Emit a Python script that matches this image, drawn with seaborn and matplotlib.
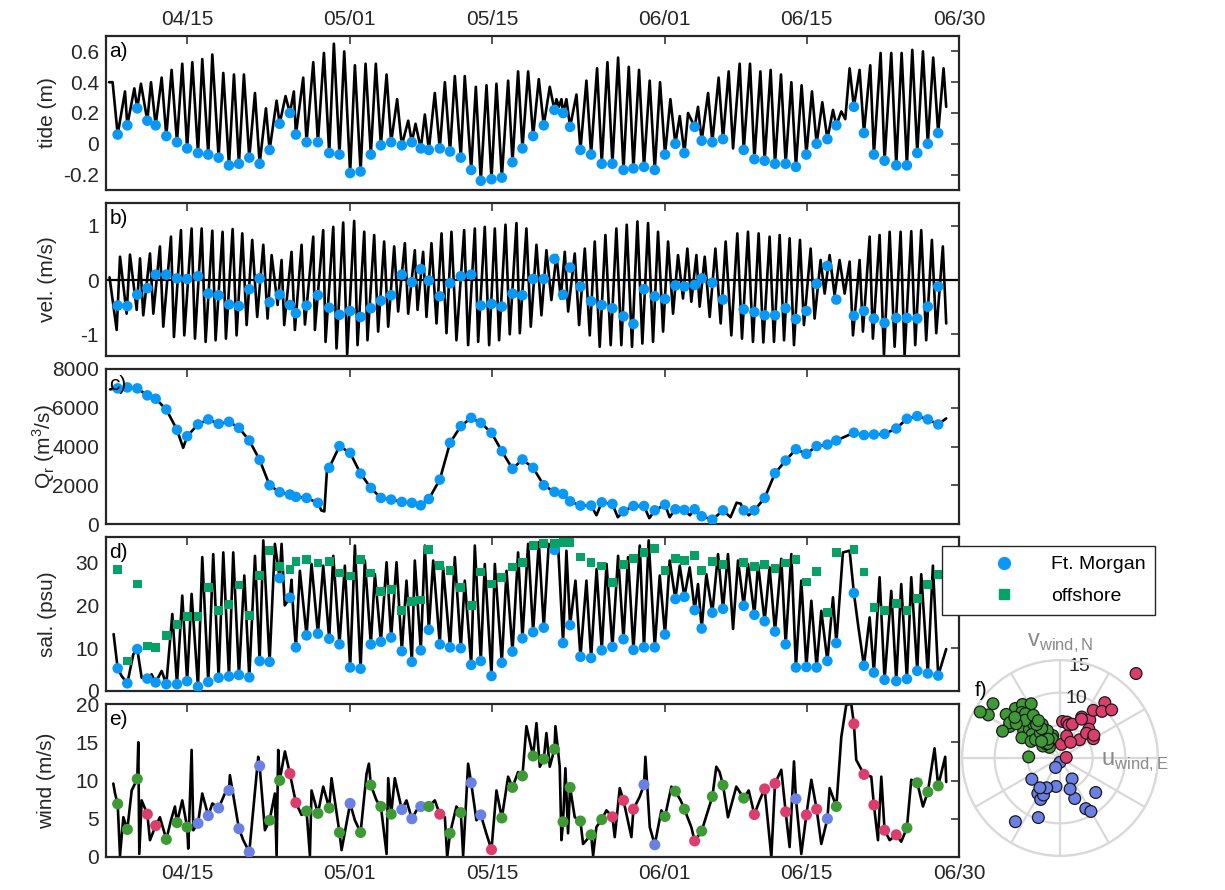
import numpy as np
import pandas as pd
import matplotlib
matplotlib.use("Agg")
import matplotlib.pyplot as plt
import matplotlib.dates as mdates
from matplotlib.lines import Line2D
import seaborn as sns

sns.set_theme(style="white")
plt.rcParams["font.family"] = ["Liberation Sans", "DejaVu Sans"]
plt.rcParams["mathtext.fontset"] = "custom"
plt.rcParams["mathtext.rm"] = "Liberation Sans"
plt.rcParams["axes.unicode_minus"] = False

# ---------------------------------------------------------------- data
T0 = pd.Timestamp("2019-04-07")
T_END = pd.Timestamp("2019-06-30")
tick_dates = ["2019-04-15", "2019-05-01", "2019-05-15", "2019-06-01", "2019-06-15", "2019-06-30"]

# daily sampling times (days after 7 April)
sample_day = [1.15, 2.10, 3.08, 4.07, 4.89, 5.94, 6.99, 7.99, 9.06, 10.07,
              11.09, 12.11, 13.09, 14.11, 15.13, 16.11, 17.10, 18.11, 18.70, 19.75,
              20.87, 21.98, 22.99, 24.04, 25.07, 26.08, 27.07, 28.08, 29.13, 30.12,
              31.00, 31.79, 32.87, 33.88, 34.94, 35.96, 36.91, 37.96, 38.98, 40.03,
              41.01, 42.06, 43.11, 44.16, 45.01, 45.70, 46.72, 47.77, 48.82, 49.87,
              50.96, 51.94, 52.98, 54.04, 55.05, 56.07, 56.96, 57.97, 58.66, 59.71,
              60.76, 62.80, 63.85, 64.86, 65.88, 66.93, 67.94, 68.97, 69.98, 71.04,
              71.92, 73.65, 74.64, 75.62, 76.67, 77.82, 78.87, 79.89, 80.93, 81.95]

tide_sample = [0.06, 0.12, 0.23, 0.15, 0.12, 0.05, 0.01, -0.03, -0.06, -0.07,
               -0.09, -0.14, -0.13, -0.09, -0.13, -0.04, 0.13, 0.20, 0.06, 0.01,
               0.01, -0.06, -0.07, -0.19, -0.18, -0.07, -0.01, 0.01, -0.01, 0.01,
               -0.03, -0.04, -0.03, -0.05, -0.09, -0.17, -0.24, -0.23, -0.22, -0.12,
               -0.03, 0.05, 0.12, 0.22, 0.20, 0.11, -0.04, -0.07, -0.13, -0.13,
               -0.17, -0.16, -0.15, -0.17, -0.07, 0.00, -0.06, 0.11, 0.02, 0.01,
               0.03, -0.04, -0.10, -0.11, -0.13, -0.13, -0.15, -0.07, 0.00, 0.03,
               0.12, 0.24, 0.07, -0.07, -0.11, -0.14, -0.14, -0.06, 0.00, 0.07]

vel_sample = [-0.47, -0.48, -0.27, -0.15, 0.10, 0.10, 0.03, 0.02, 0.07, -0.25,
              -0.28, -0.45, -0.48, -0.17, 0.03, -0.41, -0.27, -0.46, -0.61, -0.47,
              -0.28, -0.51, -0.64, -0.57, -0.68, -0.52, -0.38, -0.28, 0.10, -0.04,
              0.20, -0.01, -0.30, -0.06, 0.07, 0.10, -0.47, -0.44, -0.49, -0.25,
              -0.28, 0.02, 0.02, 0.39, -0.27, 0.23, -0.12, -0.39, -0.46, -0.52,
              -0.67, -0.81, -0.17, -0.30, -0.35, -0.10, -0.12, -0.09, 0.03, -0.05,
              -0.36, -0.54, -0.59, -0.65, -0.65, -0.52, -0.72, -0.57, -0.07, 0.26,
              -0.36, -0.66, -0.57, -0.71, -0.79, -0.70, -0.70, -0.71, -0.49, -0.12]

q_sample = [7000, 7050, 7000, 6640, 6465, 5910, 4860, 4530, 5140, 5400,
            5170, 5275, 4965, 4310, 3310, 2000, 1640, 1520, 1400, 1345,
            1090, 2900, 4020, 3670, 2600, 1860, 1345, 1260, 1140, 1090,
            965, 1290, 2290, 4190, 5050, 5480, 5220, 4710, 3760, 2845,
            3330, 2900, 2000, 1655, 1550, 1170, 950, 950, 1120, 1035,
            655, 930, 930, 705, 1000, 760, 725, 760, 400, 225,
            705, 705, 705, 1345, 2620, 3275, 3860, 3620, 4020, 4100,
            4310, 4710, 4590, 4620, 4650, 4930, 5430, 5570, 5400, 5140]

sal_morgan = [5.3, 1.8, 9.8, 2.9, 2.0, 1.6, 1.6, 2.3, 1.0, 2.1,
              3.1, 3.4, 3.75, 3.2, 7.0, 6.8, 26.4, 21.8, 10.2, 13.0,
              13.4, 12.2, 10.9, 5.5, 5.2, 10.9, 11.5, 12.5, 9.3, 6.8,
              9.5, 14.3, 10.9, 10.2, 10.0, 6.1, 7.0, 3.5, 6.6, 9.2,
              12.3, 13.75, 14.8, 33.0, 11.2, 15.4, 8.0, 7.7, 9.5, 10.3,
              12.1, 9.6, 10.2, 10.2, 13.2, 21.5, 22.0, 18.9, 14.6, 18.3,
              19.2, 19.9, 17.8, 16.3, 13.9, 10.9, 5.5, 5.6, 5.5, 7.0,
              11.2, 22.9, 5.9, 4.3, 2.6, 2.3, 2.8, 4.7, 4.1, 3.6]

sal_offshore = [28.4, 7.0, 25.0, 10.5, 10.2, 13.0, 15.5, 17.4, 17.4, 24.2,
                18.9, 20.2, 24.8, 17.7, 27.0, 32.8, 29.1, 28.4, 30.2, 30.8,
                29.9, 30.3, 27.6, 26.9, 30.8, 27.6, 23.3, 23.8, 18.9, 20.9,
                21.25, 33.0, 29.4, 28.1, 24.2, 20.0, 27.8, 25.0, 26.6, 29.0,
                30.0, 34.1, 34.4, 34.5, 34.7, 34.8, 31.3, 30.0, 29.2, 25.4,
                29.5, 30.9, 32.3, 33.3, 28.1, 30.9, 30.5, 31.6, 28.1, 30.2,
                29.6, 30.1, 29.1, 29.5, 28.6, 29.9, 30.8, 25.5, 28.0, 18.4,
                32.3, 33.0, 27.8, 19.5, 18.9, 20.5, 18.75, 21.6, 24.9, 27.2]

wind_speed = [6.95, 3.6, 10.2, 5.6, 4.1, 2.3, 4.5, 3.9, 4.4, 5.4,
              6.4, 8.7, 3.7, 0.65, 11.9, 4.8, 10.0, 10.9, 7.1, 6.0,
              5.7, 6.4, 3.2, 7.0, 3.2, 9.4, 6.6, 5.6, 6.2, 5.0,
              6.6, 6.6, 5.6, 3.1, 5.8, 9.7, 5.5, 0.96, 5.1, 9.1,
              10.6, 13.2, 12.8, 14.1, 4.6, 9.1, 4.7, 2.9, 4.9, 5.25,
              7.4, 6.25, 9.45, 1.6, 5.3, 8.6, 6.25, 2.1, 3.4, 7.9,
              9.4, 7.7, 5.55, 8.9, 9.6, 5.9, 7.6, 5.5, 6.25, 5.0,
              6.6, 17.4, 10.8, 6.8, 3.5, 2.9, 3.8, 9.7, 8.5, 9.3]

# direction the wind vector points to, degrees counter-clockwise from east
wind_dir = [143, 108, 132, 86, 43, 135, 132, 125, 262, 217,
            238, 297, 300, 270, 235, 178, 125, 51, 62, 147,
            133, 137, 145, 245, 112, 118, 128, 140, 246, 246,
            290, 152, 79, 135, 118, 250, 236, 5, 150, 130,
            141, 141, 149, 150, 115, 148, 143, 130, 128, 75,
            52, 45, 300, 245, 122, 128, 125, 84, 122, 133,
            145, 122, 43, 55, 48, 30, 316, 70, 34, 288,
            120, 48, 43, 61, 73, 56, 138, 155, 142, 138]

# tide record: high waters and extra turning points (lows are the sample values)
tide_hw_day = [1.87, 2.79, 3.44, 4.43, 5.48, 6.46, 7.51, 8.50, 9.48, 10.47,
               11.55, 12.60, 13.58, 14.67, 15.75, 16.80, 17.68, 18.50, 19.42, 20.41,
               21.46, 22.44, 23.46, 24.51, 25.56, 26.57, 27.63, 28.67, 29.76, 30.48,
               31.40, 32.38, 33.37, 34.35, 35.33, 36.42, 37.47, 38.45, 39.60, 40.58,
               41.57, 42.62, 43.70, 44.36, 44.85, 45.34, 46.33, 47.31, 48.36, 49.38,
               50.43, 51.48, 52.49, 53.54, 54.56, 55.58, 56.50, 57.32, 58.30, 59.29,
               60.33, 61.32, 62.40, 63.42, 64.44, 65.45, 66.47, 67.49, 68.50, 69.52,
               70.54, 71.59, 72.41, 73.23, 74.21, 75.26, 76.28, 77.33, 78.35, 79.40,
               80.45, 81.46, 82.48]
tide_hw = [0.34, 0.36, 0.39, 0.40, 0.43, 0.48, 0.52, 0.53, 0.55, 0.58,
           0.46, 0.45, 0.45, 0.33, 0.23, 0.28, 0.31, 0.34, 0.43, 0.53,
           0.59, 0.65, 0.60, 0.51, 0.52, 0.52, 0.45, 0.29, 0.15, 0.13,
           0.19, 0.33, 0.40, 0.44, 0.44, 0.37, 0.38, 0.39, 0.41, 0.47,
           0.47, 0.42, 0.37, 0.29, 0.29, 0.29, 0.32, 0.41, 0.49, 0.53,
           0.56, 0.50, 0.48, 0.41, 0.40, 0.29, 0.18, 0.20, 0.24, 0.33,
           0.43, 0.47, 0.52, 0.52, 0.47, 0.48, 0.45, 0.40, 0.38, 0.34,
           0.27, 0.22, 0.21, 0.49, 0.48, 0.51, 0.59, 0.59, 0.59, 0.61,
           0.60, 0.56, 0.49]
tide_extra_day = [0.30, 0.65, 44.60, 61.75, 72.80, 82.74]
tide_extra = [0.40, 0.40, 0.24, -0.03, 0.16, 0.24]

# along-channel velocity: flood maxima and ebb minima
vel_max_day = [1.38, 2.36, 3.35, 4.33, 5.31, 6.40, 7.38, 8.43, 9.42, 10.47,
               11.48, 12.47, 13.42, 14.40, 15.49, 16.31, 17.29, 18.27, 19.26, 20.41,
               21.39, 22.38, 23.36, 24.44, 25.43, 26.41, 27.39, 28.38, 29.43, 30.41,
               31.23, 32.05, 33.04, 34.02, 35.27, 36.32, 37.30, 38.29, 39.34, 40.42,
               41.40, 42.39, 43.37, 44.36, 45.18, 46.16, 47.15, 48.13, 49.18, 50.26,
               51.28, 52.33, 53.38, 54.36, 55.35, 56.33, 57.25, 58.14, 58.96, 60.01,
               61.02, 62.17, 63.22, 64.27, 65.35, 66.34, 67.32, 68.34, 69.39, 70.37,
               71.26, 72.24, 73.23, 74.21, 75.20, 76.18, 77.17, 78.25, 79.30, 80.28,
               81.33, 82.41]
vel_max = [0.43, 0.47, 0.40, 0.49, 0.62, 0.80, 0.92, 0.95, 0.95, 0.91,
           0.89, 0.94, 0.86, 0.74, 0.65, 0.46, 0.37, 0.52, 0.65, 0.80,
           0.92, 0.98, 1.06, 1.09, 0.89, 0.83, 0.71, 0.62, 0.68, 0.55,
           0.52, 0.68, 0.86, 0.89, 0.92, 0.95, 0.98, 0.95, 1.02, 1.05,
           0.95, 0.65, 0.55, 0.46, 0.52, 0.49, 0.58, 0.71, 0.83, 0.95,
           1.02, 1.08, 1.05, 0.89, 0.71, 0.46, 0.58, 0.46, 0.43, 0.58,
           0.71, 0.86, 0.89, 0.86, 0.80, 0.83, 0.77, 0.74, 0.58, 0.37,
           0.46, 0.37, 0.34, 0.37, 0.80, 0.83, 0.89, 0.89, 0.90, 0.92,
           0.74, 0.62]
vel_min_day = [0.35, 1.05, 2.03, 3.02, 3.67, 4.66, 5.64, 6.69, 7.71, 8.76, 9.81,
               10.79, 11.81, 12.86, 13.85, 14.89, 15.91, 16.90, 17.55, 18.60, 19.59,
               20.57, 21.62, 22.70, 23.75, 24.77, 25.75, 26.80, 27.79, 28.77, 29.76,
               30.68, 31.56, 32.55, 33.53, 34.51, 35.66, 36.65, 37.73, 38.71, 39.76,
               40.75, 41.83, 42.88, 43.86, 44.78, 45.51, 46.59, 47.64, 48.62, 49.70,
               50.75, 51.80, 52.82, 53.87, 54.86, 55.84, 56.82, 57.64, 58.46, 59.45,
               60.53, 61.58, 62.63, 63.71, 64.73, 65.78, 66.77, 67.75, 68.73, 69.78,
               70.77, 71.75, 72.74, 73.56, 74.54, 75.52, 76.61, 77.66, 78.64, 79.69,
               80.77, 81.76, 82.74]
vel_min = [0.05, -0.92, -0.62, -0.55, -0.65, -0.62, -0.86, -1.05, -1.02, -1.08, -1.14,
           -1.11, -1.08, -1.02, -0.83, -0.68, -0.71, -0.46, -0.83, -0.92, -0.82,
           -0.92, -1.14, -1.26, -1.37, -1.20, -1.11, -0.95, -0.86, -0.58, -0.62,
           -0.55, -0.68, -0.80, -0.98, -1.11, -1.20, -1.14, -1.20, -1.11, -1.00,
           -0.98, -0.86, -0.65, -0.37, -0.34, -0.58, -0.83, -1.02, -1.23, -1.20,
           -1.20, -1.23, -1.17, -1.14, -0.95, -0.62, -0.34, -0.40, -0.49, -0.68,
           -0.80, -1.02, -1.08, -1.14, -1.15, -1.14, -1.11, -1.20, -0.83, -0.71,
           -0.25, -0.28, -0.25, -1.02, -0.95, -1.08, -1.38, -1.23, -1.38, -1.20,
           -1.11, -0.98, -0.80]

# river discharge record between the daily samples
q_extra_day = [0.40, 7.60, 21.20, 21.50, 21.75, 48.30, 50.40, 53.50, 55.50,
               57.50, 61.50, 62.10, 62.50, 63.30, 82.74]
q_extra = [6950, 3930, 700, 650, 2700, 450, 350, 300, 350,
           450, 350, 1100, 1050, 450, 5450]

# salinity record: high-water peaks and extra turning points
sal_peak_day = [6.53, 7.51, 8.43, 9.48, 10.56, 11.55, 12.53, 13.62, 14.67, 15.49,
                16.63, 17.29, 18.27, 19.09, 20.24, 21.39, 22.38, 23.52, 24.51, 25.49,
                26.48, 27.63, 28.61, 29.59, 30.41, 31.40, 32.22, 33.20, 34.35, 35.33,
                36.32, 37.30, 38.29, 39.44, 40.58, 41.57, 42.62, 43.60, 44.52, 45.34,
                46.23, 47.31, 48.31, 49.29, 50.43, 51.41, 52.56, 53.44, 54.53, 55.51,
                56.50, 57.48, 58.30, 59.12, 60.27, 61.25, 62.24, 63.22, 64.21, 65.35,
                66.50, 67.49, 68.47, 69.46, 70.44, 71.59, 72.57, 73.23, 75.20, 76.18,
                77.33, 78.31, 79.30, 80.28, 81.43]
sal_peak = [18.0, 22.3, 22.7, 31.3, 32.0, 32.4, 32.4, 27.0, 31.6, 35.2,
            34.4, 34.4, 26.0, 28.1, 29.7, 29.3, 31.6, 29.3, 34.0, 30.5,
            27.3, 30.1, 30.1, 25.8, 30.5, 34.0, 30.5, 28.9, 31.3, 25.8,
            34.0, 29.7, 29.7, 28.1, 32.4, 34.4, 34.8, 34.4, 34.0, 32.8,
            25.8, 25.8, 28.5, 29.7, 31.6, 31.3, 34.0, 35.2, 27.0, 30.5,
            29.3, 28.9, 25.0, 27.3, 32.0, 32.0, 30.5, 29.7, 29.7, 28.9,
            30.9, 32.0, 25.8, 21.1, 18.75, 21.9, 32.4, 32.8, 17.2, 26.6,
            23.4, 25.0, 26.6, 27.3, 29.3]
sal_extra_day = [0.75, 1.54, 2.69, 3.51, 4.49, 5.48, 17.60, 18.45, 61.75, 74.10, 82.74]
sal_extra = [13.3, 3.5, 8.6, 3.1, 3.9, 4.7, 20.0, 18.0, 14.5, 14.8, 9.8]

# hourly wind record between the daily samples
wind_extra_day = [0.72, 0.89, 1.38, 1.71, 2.53, 3.18, 3.28, 3.51, 4.33, 5.31,
                  6.40, 6.79, 7.51, 8.10, 8.43, 8.60, 9.48, 10.47, 11.71, 12.20,
                  13.52, 14.99, 15.65, 16.63, 16.80, 16.96, 17.62, 19.26, 20.08, 20.24,
                  21.39, 22.21, 23.20, 24.51, 25.66, 25.89, 26.64, 27.63, 27.79, 28.44,
                  29.59, 30.58, 32.38, 33.37, 33.60, 34.51, 35.17, 35.66, 36.48, 37.47,
                  38.45, 39.60, 40.58, 41.40, 42.39, 42.72, 43.37, 43.70, 44.26, 44.68,
                  44.85, 45.24, 45.50, 46.16, 46.98, 47.97, 48.29, 49.28, 50.10, 50.59,
                  51.74, 52.56, 53.12, 53.55, 54.69, 55.68, 56.59, 57.64, 60.10, 60.43,
                  61.25, 62.07, 63.29, 64.37, 65.52, 66.50, 67.32, 67.75, 68.47, 69.46,
                  70.44, 71.26, 72.41, 72.90, 73.39, 73.88, 75.36, 76.02, 76.35, 77.17,
                  78.31, 79.30, 80.45, 81.59, 82.64, 82.74]
wind_extra = [9.6, 8.3, 0.2, 5.2, 8.7, 15.0, 0.4, 7.4, 2.2, 5.2,
              4.8, 6.6, 7.4, 1.1, 14.0, 3.5, 8.3, 7.0, 8.3, 10.7,
              2.2, 13.1, 3.5, 8.3, 0.2, 14.0, 13.8, 5.5, 0.2, 8.7,
              9.2, 10.3, 0.9, 4.8, 10.9, 12.2, 7.4, 0.4, 10.3, 10.3,
              7.4, 6.1, 7.4, 5.2, 0.0, 6.6, 0.2, 12.2, 4.8, 3.0,
              8.7, 10.5, 11.1, 17.1, 17.5, 11.8, 16.2, 11.8, 17.1, 11.8,
              2.2, 11.6, 3.1, 5.2, 1.7, 0.2, 3.9, 6.1, 2.6, 9.0,
              2.6, 7.9, 13.1, 3.9, 6.1, 9.2, 7.4, 3.9, 11.8, 11.1,
              5.2, 9.2, 8.7, 7.4, 0.0, 11.4, 1.3, 12.5, 0.4, 10.1,
              1.7, 9.0, 15.7, 19.9, 20.0, 12.7, 10.5, 2.2, 10.5, 2.2,
              2.0, 10.1, 6.6, 14.2, 13.1, 9.8]

tide_ticks = [-0.2, 0, 0.2, 0.4, 0.6]
vel_ticks = [-1, 0, 1]
q_ticks = [0, 2000, 4000, 6000, 8000]
sal_ticks = [0, 10, 20, 30]
wind_ticks = [0, 5, 10, 15, 20]
polar_rings = [5, 10, 15]
ring_labels = ["10", "15"]

# ---------------------------------------------------------------- helpers
BLUE = "#0A98F6"
GREEN_SQ = "#04A267"
SECTOR_COLORS = {"NE": "#DD3D6D", "NW": "#3D9A35", "S": "#6A80E4"}
INK = "#262626"


def to_time(days):
    return T0 + pd.to_timedelta(np.asarray(days, dtype=float), unit="D")


def trace(*pairs):
    """Merge (day, value) pieces into one time-ordered record."""
    d = np.concatenate([np.asarray(p[0], float) for p in pairs])
    v = np.concatenate([np.asarray(p[1], float) for p in pairs])
    order = np.argsort(d, kind="stable")
    return pd.DataFrame({"time": to_time(d[order]), "value": v[order]})


def sector(deg):
    if deg < 90:
        return "NE"
    if deg < 200:
        return "NW"
    return "S"


samples = pd.DataFrame({
    "time": to_time(sample_day),
    "tide": tide_sample, "vel": vel_sample, "q": q_sample,
    "sal_m": sal_morgan, "sal_o": sal_offshore,
    "wind": wind_speed, "dir": wind_dir,
})
samples["sector"] = [sector(d) for d in wind_dir]
samples["theta"] = np.deg2rad(samples["dir"])

tide_rec = trace((sample_day, tide_sample), (tide_hw_day, tide_hw), (tide_extra_day, tide_extra))
vel_rec = trace((vel_max_day, vel_max), (vel_min_day, vel_min))
q_rec = trace((sample_day, q_sample), (q_extra_day, q_extra))
sal_rec = trace((sample_day, sal_morgan), (sal_peak_day, sal_peak), (sal_extra_day, sal_extra))
wind_rec = trace((sample_day, wind_speed), (wind_extra_day, wind_extra))

# ---------------------------------------------------------------- figure
W, H = 1225, 890
fig = plt.figure(figsize=(W / 100, H / 100), dpi=100)


def fig_rect(x0, y0, x1, y1):
    return [x0 / W, 1 - y1 / H, (x1 - x0) / W, (y1 - y0) / H]


rows = [(36, 190), (203, 356), (369, 524), (537, 691), (704, 857)]
axes = [fig.add_axes(fig_rect(106, y0, 959, y1)) for y0, y1 in rows]
ax_a, ax_b, ax_c, ax_d, ax_e = axes

LW = 1.9
line_kw = dict(color="black", lw=LW, sort=False, estimator=None, legend=False)
dot_kw = dict(color=BLUE, s=58, edgecolor="none", legend=False, zorder=3)

# a) tide
sns.lineplot(data=tide_rec, x="time", y="value", ax=ax_a, **line_kw)
sns.scatterplot(data=samples, x="time", y="tide", ax=ax_a, **dot_kw)
ax_a.set_ylim(-0.3, 0.7)
ax_a.set_yticks(tide_ticks)
ax_a.set_yticklabels([f"{t:g}" for t in tide_ticks])
ax_a.set_ylabel("tide (m)")

# b) velocity
ax_b.axhline(0, color="black", lw=1.6, zorder=1)
sns.lineplot(data=vel_rec, x="time", y="value", ax=ax_b, **line_kw)
sns.scatterplot(data=samples, x="time", y="vel", ax=ax_b, **dot_kw)
ax_b.set_ylim(-1.4, 1.42)
ax_b.set_yticks(vel_ticks)
ax_b.set_yticklabels([f"{t:g}" for t in vel_ticks])
ax_b.set_ylabel("vel. (m/s)")

# c) discharge
sns.lineplot(data=q_rec, x="time", y="value", ax=ax_c, **line_kw)
sns.scatterplot(data=samples, x="time", y="q", ax=ax_c, **dot_kw)
ax_c.set_ylim(0, 8000)
ax_c.set_yticks(q_ticks)
ax_c.set_yticklabels([f"{t:g}" for t in q_ticks])
ax_c.set_ylabel(r"Q$_\mathregular{r}$ (m$^\mathregular{3}$/s)")

# d) salinity
sns.lineplot(data=sal_rec, x="time", y="value", ax=ax_d, **line_kw)
sns.scatterplot(data=samples, x="time", y="sal_m", ax=ax_d, **dot_kw)
sns.scatterplot(data=samples, x="time", y="sal_o", ax=ax_d, marker="s", color=GREEN_SQ,
                s=40, edgecolor="none", legend=False, zorder=3)
ax_d.set_ylim(0, 36)
ax_d.set_yticks(sal_ticks)
ax_d.set_yticklabels([f"{t:g}" for t in sal_ticks])
ax_d.set_ylabel("sal. (psu)")

# e) wind speed, coloured by direction sector
sns.lineplot(data=wind_rec, x="time", y="value", ax=ax_e, **line_kw)
sns.scatterplot(data=samples, x="time", y="wind", hue="sector", palette=SECTOR_COLORS,
                s=64, edgecolor="none", legend=False, zorder=3, ax=ax_e)
ax_e.set_ylim(0, 20)
ax_e.set_yticks(wind_ticks)
ax_e.set_yticklabels([f"{t:g}" for t in wind_ticks])
ax_e.set_ylabel("wind (m/s)")

xt = pd.to_datetime(tick_dates)
for i, (ax, tag) in enumerate(zip(axes, "abcde")):
    ax.set_xlim(T0, T_END)
    ax.set_xticks(xt)
    ax.xaxis.set_major_formatter(mdates.DateFormatter("%m/%d"))
    ax.set_xlabel("")
    ax.tick_params(direction="in", top=True, right=True, length=6, width=1.1,
                   labelsize=15, colors=INK, pad=5,
                   labeltop=(i == 0), labelbottom=(i == 4))
    for sp in ax.spines.values():
        sp.set_color(INK)
        sp.set_linewidth(1.6)
    ax.yaxis.label.set_size(15)
    ax.yaxis.label.set_color(INK)
    ax.yaxis.set_label_coords(-0.058, 0.5)
    ax.text(0.004, 0.9, f"{tag})", transform=ax.transAxes, fontsize=15,
            color="black", ha="left", va="center", zorder=5)

# legend for panel d
handles = [Line2D([], [], marker="o", ls="none", color=BLUE, markersize=8.5),
           Line2D([], [], marker="s", ls="none", color=GREEN_SQ, markersize=7)]
leg = fig.legend(handles, ["Ft. Morgan", "offshore"], loc="upper left",
                 bbox_to_anchor=(942 / W, 1 - 546 / H), bbox_transform=fig.transFigure,
                 borderaxespad=0, frameon=True, fancybox=False, framealpha=1,
                 facecolor="white", edgecolor=INK, fontsize=14, handlelength=5.4,
                 handletextpad=-0.3, borderpad=0.5, labelspacing=0.72)
leg.get_frame().set_linewidth(1.0)
for t in leg.get_texts():
    t.set_color("black")

# f) polar wind rose
R = 98
axp = fig.add_axes(fig_rect(1060 - R, 758 - R, 1060 + R, 758 + R), projection="polar")
sns.scatterplot(data=samples, x="theta", y="wind", hue="sector", palette=SECTOR_COLORS,
                s=72, edgecolor="#1a1a1a", linewidth=0.9, legend=False, zorder=4,
                clip_on=False, ax=axp)
axp.set_xlabel("")
axp.set_ylabel("")
axp.set_ylim(0, 15)
axp.set_yticks(polar_rings)
axp.set_yticklabels([])
axp.set_xticks(np.deg2rad(np.arange(0, 360, 30)))
axp.set_xticklabels([])
axp.grid(True, color="#d9d9d9", lw=1.6)
axp.spines["polar"].set_color("#d9d9d9")
axp.spines["polar"].set_linewidth(1.6)
axp.set_facecolor("none")
axp.set_axisbelow(True)
# ring labels sit just inside their circles
for lab, r, ang in zip(ring_labels, [9.5, 14.3], [75, 78]):
    axp.text(np.deg2rad(ang), r, lab, fontsize=14, color=INK, ha="center", va="center",
             zorder=2)

fig.text(1060 / W, 1 - 643 / H, r"v$_\mathregular{wind,N}$", fontsize=17, color="#8a8a8a",
         ha="center", va="center")
fig.text(1101 / W, 1 - 762 / H, r"u$_\mathregular{wind,E}$", fontsize=17, color="#8a8a8a",
         ha="left", va="center")
fig.text(975 / W, 1 - 690 / H, "f)", fontsize=15, color="black", ha="left", va="center")

fig.savefig("out.png", dpi=100)
